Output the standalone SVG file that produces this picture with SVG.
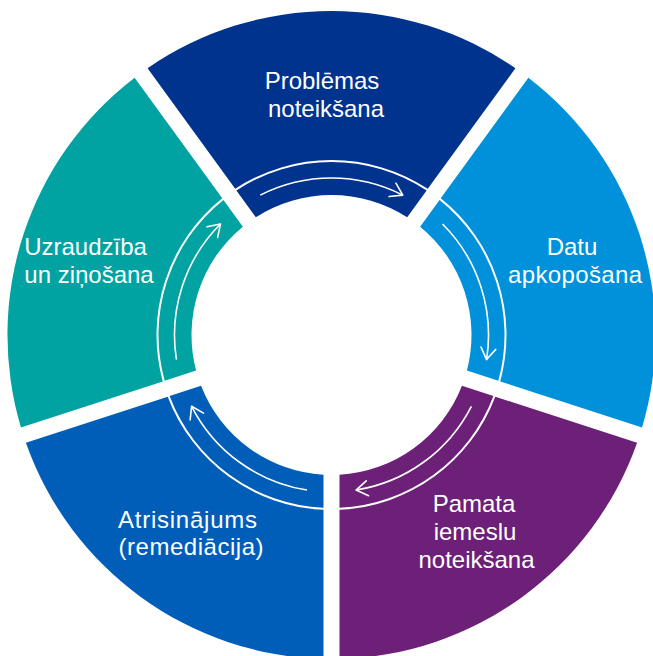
<svg xmlns="http://www.w3.org/2000/svg" width="653" height="656" viewBox="0 0 653 656">
<defs>
<style>
.lbl{font-family:"Liberation Sans",Arial,sans-serif;font-size:24px;fill:#ffffff;text-anchor:middle}
.arr{fill:none;stroke:#ffffff;stroke-width:1.6;marker-end:url(#chev)}
</style>
<marker id="chev" markerUnits="userSpaceOnUse" viewBox="-14 -10 16 20" markerWidth="16" markerHeight="20" refX="0" refY="0" orient="auto" overflow="visible">
<path d="M-11.5,-7.5 L0,0 L-11.5,7.5" fill="none" stroke="#ffffff" stroke-width="1.6" stroke-linejoin="round" stroke-linecap="round"/>
</marker>
<path id="outer" d="M147.57,68.23 A324,324 0 0,1 515.43,68.23 L427.78,188.87 A175,175 0 0,0 235.22,188.87 Z"/>
<path id="band" d="M236.39,190.49 A173,173 0 0,1 426.61,190.49 L407.18,217.22 A140,140 0 0,0 255.82,217.22 Z"/>
</defs>
<rect width="653" height="656" fill="#ffffff"/>
<g id="node-problemas" fill="#00338D">
<use href="#outer"/><use href="#band"/>
<text class="lbl"><tspan x="322" y="89">Problēmas</tspan><tspan x="326" y="116.5">noteikšana</tspan></text>
</g>
<g id="node-datu" fill="#0091DA">
<g transform="rotate(72 331.5 335)"><use href="#outer"/><use href="#band"/></g>
<text class="lbl"><tspan x="572" y="255">Datu</tspan><tspan x="575" y="283" textLength="134">apkopošana</tspan></text>
</g>
<g id="node-pamata" fill="#6D2077">
<g transform="rotate(144 331.5 335)"><use href="#outer"/><use href="#band"/></g>
<text class="lbl"><tspan x="474" y="512">Pamata</tspan><tspan x="475" y="540">iemeslu</tspan><tspan x="476.5" y="568">noteikšana</tspan></text>
</g>
<g id="node-atrisinajums" fill="#005EB8">
<g transform="rotate(216 331.5 335)"><use href="#outer"/><use href="#band"/></g>
<text class="lbl"><tspan x="187.5" y="528" textLength="139">Atrisinājums</tspan><tspan x="191" y="555" textLength="145">(remediācija)</tspan></text>
</g>
<g id="node-uzraudziba" fill="#00A3A1">
<g transform="rotate(288 331.5 335)"><use href="#outer"/><use href="#band"/></g>
<text class="lbl"><tspan x="85.5" y="254.5">Uzraudzība</tspan><tspan x="89" y="282.5">un ziņošana</tspan></text>
</g>
<g id="connectors">
<path class="arr" d="M260.22,195.11 A157,157 0 0,1 402.78,195.11"/>
<path class="arr" transform="rotate(72 331.5 335)" d="M260.22,195.11 A157,157 0 0,1 402.78,195.11"/>
<path class="arr" transform="rotate(144 331.5 335)" d="M260.22,195.11 A157,157 0 0,1 402.78,195.11"/>
<path class="arr" transform="rotate(216 331.5 335)" d="M260.22,195.11 A157,157 0 0,1 402.78,195.11"/>
<path class="arr" transform="rotate(288 331.5 335)" d="M260.22,195.11 A157,157 0 0,1 402.78,195.11"/>
</g>
</svg>
